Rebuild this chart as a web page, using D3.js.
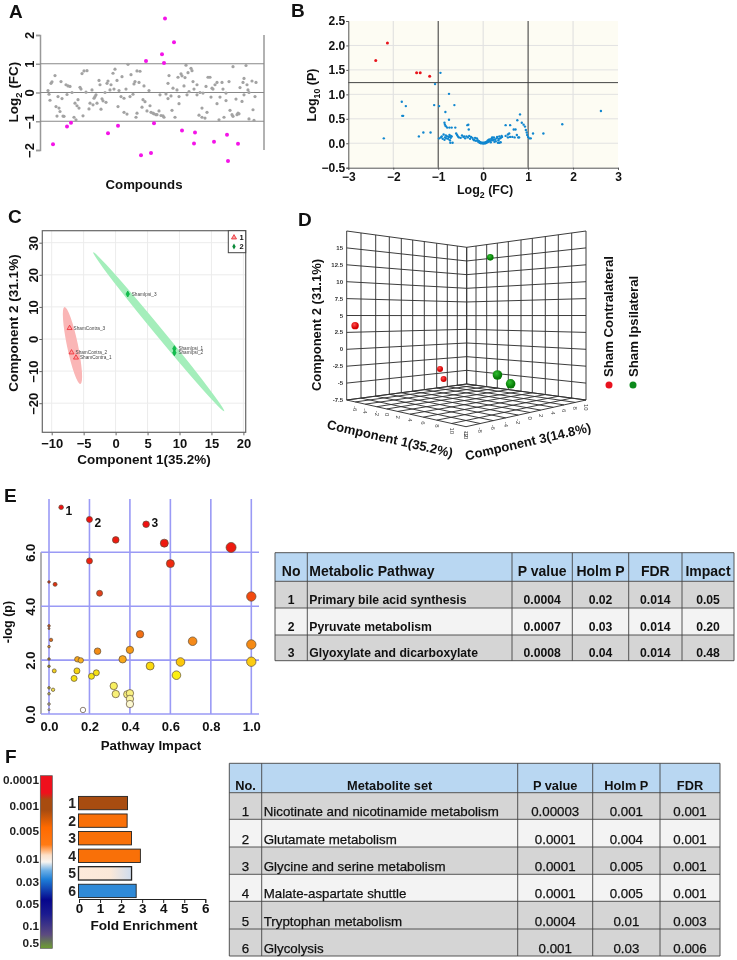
<!DOCTYPE html>
<html>
<head>
<meta charset="utf-8">
<script src="https://cdn.jsdelivr.net/npm/d3@7"></script>
<style>
  html, body { margin: 0; padding: 0; background: #fff; }
  svg { display: block; filter: blur(0.3px); }
  text { font-family: 'Liberation Sans', Arial, sans-serif; fill: #111; }
  .b { font-weight: bold; }
</style>
</head>
<body>
<div id="content"></div>
<script>
// A: compound index, log2 fold change
const aGrayIdx = [8,9,10,11,12,15,16,17,18,19,20,21,22,23,24,26,27,28,30,32,34,35,36,37,38,39,40,41,42,43,44,46,47,49,50,52,53,54,55,56,57,59,60,61,62,63,65,66,67,68,70,71,73,74,75,77,78,79,81,82,84,86,88,84,87,90,91,93,94,95,96,97,97,99,100,102,103,104,105,107,109,110,111,113,114,116,117,119,120,121,123,124,128,129,128,126,131,132,133,135,137,138,139,139,141,142,144,145,146,147,148,149,151,152,153,154,157,157,159,160,162,162,163,165,166,167,168,170,171,172,173,175,177,177,179,180,182,183,184,186,186,189,190,192,193,193,196,197,198,199,200,202,203,204,204,206,207,208,209,209,212,213,214,215,216]
const aGrayFC = [0.07,-0.06,-0.27,0.32,0.37,0.59,-0.49,-0.82,-0.14,-0.54,-0.66,0.38,-0.21,-0.82,-0.83,0.27,-0.07,0.23,0.21,0,-0.86,-0.37,-0.95,-0.46,-0.25,-0.54,0.18,0.12,0.66,-0.81,0.75,0.01,0.76,-0.57,-0.37,0.09,-0.43,-0.2,-0.14,-0.08,-0.37,0.42,0.27,-0.58,-0.22,-0.29,0,-0.34,0.32,0.4,0.09,0.27,0.67,0.12,0.81,0.42,-0.49,0.07,-0.14,0.55,-0.2,0.12,0.98,-0.69,-0.75,-0.14,0.62,-0.06,0.3,0.38,-0.86,0.75,-0.72,0.35,0.74,-0.51,-0.25,0.23,-0.32,-0.64,0.07,-0.46,-0.69,-0.72,-0.74,-0.77,-0.77,-0.64,-0.08,-0.8,-0.81,-0.86,0.32,0.59,-0.21,-0.05,-0.12,-0.62,0.15,-0.86,0.09,0.53,-0.14,-0.39,0.65,0.58,0.23,0.52,0.95,-0.08,0.69,0.03,0.84,0.76,0.38,0.12,-0.08,0.27,-0.79,0,-0.54,-0.86,-0.02,-0.89,0.21,-0.69,0.53,0.53,-0.16,0.15,0.12,0.27,0.35,-0.39,-0.95,-0.16,0.35,0.12,-0.86,-0.02,-0.28,0.38,-0.62,-0.77,-0.83,0.9,-0.23,-0.77,-0.72,-0.74,0.17,-0.31,0.35,-0.08,0.49,0.94,0.27,0.09,0,-0.92,0.4,-0.6,-0.97,-0.14,0.35]
const aSigIdx = [13,27,31,68,78,101,106,111,114,122,124,125,134,142,154,155,174,187,188,198]
const aSigFC = [-1.8,-1.18,-1.05,-1.42,-1.16,-2.18,1.1,-2.1,-1.07,1.33,1.03,2.57,1.75,-1.32,-1.77,-1.39,-1.71,-1.47,-2.38,-1.78]

// B: volcano plot
const bRedFC = [-2.39,-2.13,-1.48,-1.4,-1.19]
const bRedP = [1.69,2.05,1.44,1.44,1.37]
const bBlueFC = [-0.95,-1.07,-0.76,-1.81,-1.72,-1.8,-1.78,-1.09,-0.98,-0.84,-0.64,-0.76,-2.21,-1.43,-1.33,-1.17,-0.86,-0.85,-0.83,-0.8,-0.75,-0.7,-0.62,-0.35,-0.33,-0.32,-0.98,-0.94,-0.92,-0.9,-0.88,-0.86,-0.85,-0.83,-0.82,-0.8,-0.78,-0.76,-0.75,-0.73,-0.72,-0.7,-0.68,-0.74,-0.72,-0.6,-0.58,-0.56,-0.54,-0.5,-0.47,-0.44,-0.42,-0.4,-0.37,-0.34,-0.31,-0.29,-0.27,-0.24,-0.22,-0.2,-0.18,-0.16,-0.14,-0.12,-0.11,-0.09,-0.08,-0.06,-0.05,-0.04,-0.02,-0.01,0,0.01,0.02,0.03,0.04,0.05,0.06,0.07,0.08,0.09,0.1,0.11,0.12,0.13,0.14,0.15,0.17,0.18,0.2,0.21,0.23,0.24,0.26,0.28,0.3,0.31,0.33,0.35,0.36,0.38,0.39,0.4,0.41,0.42,0.34,0.36,0.2,0.25,0.5,0.6,0.68,0.72,0.76,0.82,0.86,0.9,0.93,0.95,0.97,0.98,1,1.03,1.06,1.11,1.34,1.76,2.62,0.5,0.55,0.58,0.6,0.65,0.7,0.75,0.78,0.8,0.55]
const bBlueP = [1.44,1.21,1.01,0.85,0.76,0.56,0.56,0.78,0.76,0.64,0.78,0.48,0.1,0.14,0.22,0.22,0.42,0.38,0.35,0.32,0.32,0.32,0.32,0.37,0.38,0.28,0.1,0.12,0.14,0.09,0.18,0.07,0.12,0.16,0.1,0.14,0.09,0.13,0.17,0.01,0.11,0.14,0.01,0.06,0.15,0.2,0.17,0.14,0.12,0.11,0.16,0.13,0.14,0.1,0.14,0.12,0.15,0.09,0.13,0.11,0.08,0.06,0.11,0.05,0.1,0.06,0.03,0.04,0.01,0.02,0,0.01,0,0.01,0,0,0.01,0,0.01,0,0.02,0.01,0.03,0.02,0.05,0.03,0.07,0.04,0.08,0.05,0.02,0.09,0.06,0.11,0.07,0.12,0.08,0.04,0.1,0.13,0.01,0.09,0.14,0.1,0.02,0.12,0.15,0.13,0.06,0.01,0.12,0.03,0.37,0.37,0.28,0.28,0.47,0.59,0.42,0.38,0.34,0.27,0.22,0.17,0.13,0.1,0.1,0.2,0.2,0.39,0.66,0.15,0.18,0.2,0.13,0.13,0.12,0.17,0.12,0.12,0.12]

// C: PCA scores
const cNames = ['ShamContra_3','ShamContra_2','ShamContra_1','ShamIpsi_3','ShamIpsi_1','ShamIpsi_2']
const cComp1 = [-7.2,-6.9,-6.2,1.9,9.2,9.2]
const cComp2 = [3.4,-4.2,-5.8,14,-3,-4.3]
const cGroup = [1,1,1,2,2,2]
const cRedAxis = [[-8,10],[-5.5,-14]]
const cGreenAxis = [[-3.5,27],[17,-22.5]]

// D: 3D PCA, view position across the two walls and component 2
const dView = [-0.93,-0.22,-0.19,0.2,0.26,0.37]
const dComp2 = [3.5,-2.9,-4.4,13.6,-3.8,-5.1]
const dDepth = [3.7,3,3,3.3,4.8,4.8]
const dTicksY = [15,12.5,10,7.5,5,2.5,0,-2.5,-5,-7.5]
const dTicksC1 = [-6,-4,-2,0,2,4,6,8,10,12]
const dTicksC3 = [-10,-8,-6,-4,-2,0,2,4,6,8,10]

// E: pathway impact
const eImpact = [0.06,0.2,0.48,0.33,0.57,0.9,0.2,0.6,0,0.03,0.25,1,0,0,0.01,0,0.45,0.71,1,0.24,0.4,0.14,0.157,0.364,0,0,0.026,0.138,0.124,0.21,0.234,0.5,0.65,1,0.63,0,0.02,0,0.32,0.33,0.387,0.4,0.4,0.4,0,0,0.168]
const eLogP = [7.67,7.22,7.04,6.46,6.34,6.18,5.68,5.58,4.9,4.81,4.48,4.36,3.27,3.17,2.75,2.5,2.96,2.7,2.58,2.33,2.38,2.03,1.99,2.03,2.04,1.77,1.6,1.6,1.32,1.4,1.53,1.78,1.93,1.94,1.44,0.97,0.9,0.75,1.04,0.74,0.73,0.77,0.56,0.37,0.37,0.16,0.15]
const eSize = [2.3,3,3.3,3.3,4,5,3,4,1.3,2,3,4.7,1.3,1,1.7,1.3,3.7,4.3,4.7,3.3,3.7,2.7,2.7,3.7,1.3,1.3,2,3,3,3,3,4,4.3,4.7,4.3,1.3,1.7,1.3,3.7,3.7,3.7,3.7,3.7,3.7,1.3,1,2.7]
const eColor = ['#f01010','#f01010','#f01010','#ee1a10','#ee1a10','#ee1a10','#f02010','#f02a10','#c8301c','#e03010','#e2401c','#f34a10','#c8552a','#c06030','#d96a20','#c98a3c','#f36f14','#f58a1a','#f58a14','#f38c15','#f79a14','#f8a81c','#f9b020','#f9a81a','#9c7a2c','#8f8a30','#f0d020','#f5d411','#f5e012','#f5e512','#f5e012','#fbd90e','#fbc70c','#fbcb14','#fbee14','#a8a030','#efe050','#b4b060','#f8f060','#f8f078','#f8f07c','#f8f080','#faf4a0','#fcf8d0','#b0b0a0','#d0d0c0','#ffffff']
const eTop = [0,1,2]

const eHead = ['No','Metabolic Pathway','P value','Holm P','FDR','Impact']
const eNo = ['1','2','3']
const ePath = ['Primary bile acid synthesis','Pyruvate metabolism','Glyoxylate and dicarboxylate']
const ePval = ['0.0004','0.0007','0.0008']
const eHolm = ['0.02','0.03','0.04']
const eFdr = ['0.014','0.014','0.014']
const eImp = ['0.05','0.20','0.48']

// F: enrichment
const fSets = ['1','2','3','4','5','6']
const fFold = [2.33,2.31,2.52,2.94,2.52,2.74]
const fFill = ['#a84c10','#f97008','#f97008','#f97008','url(#bar5)','#2f8ad8']
const fLegend = ['0.0001','0.001','0.005','0.01','0.03','0.05','0.1','0.5']
const fHead = ['No.','Metabolite set','P value','Holm P','FDR']
const fNo = ['1','2','3','4','5','6']
const fName = ['Nicotinate and nicotinamide metabolism','Glutamate metabolism','Glycine and serine metabolism','Malate-aspartate shuttle','Tryptophan metabolism','Glycolysis']
const fPval = ['0.00003','0.0001','0.0001','0.0001','0.0004','0.001']
const fHolm = ['0.001','0.004','0.005','0.005','0.01','0.03']
const fFdr = ['0.001','0.001','0.001','0.001','0.003','0.006']

const svg = d3.select('#content').append('svg')
  .attr('width', 737)
  .attr('height', 960)

const defs = svg.append('defs')

function panelLetter (s, x, y) {
  svg.append('text').attr('class', 'b').attr('x', x).attr('y', y)
    .style('font-size', '19px').text(s)
}

function label (x, y, s, size, rot, bold) {
  return svg.append('text')
    .attr('class', bold === false ? '' : 'b')
    .attr('transform', 'translate(' + x + ',' + y + ') rotate(' + (rot || 0) + ')')
    .attr('text-anchor', 'middle')
    .style('font-size', size + 'px')
    .text(s)
}

// label with a subscript, e.g. Log2
function subLabel (x, y, a, sub, b, size, rot) {
  const t = label(x, y, '', size, rot)
  t.append('tspan').text(a)
  t.append('tspan').attr('dy', size * 0.3).style('font-size', (size * 0.7) + 'px').text(sub)
  t.append('tspan').attr('dy', -size * 0.3).text(b)
}

function rotateLabels (g, off) {
  g.selectAll('text')
    .attr('transform', 'rotate(-90)')
    .attr('x', 0).attr('y', -off).attr('dy', 0)
    .style('text-anchor', 'middle')
}

// ---- A
panelLetter('A', 9, 18)
const ax = d3.scaleLinear().domain([0, 224]).range([40, 264])
const ay = d3.scaleLinear().domain([-2, 2]).range([150, 35])

const aAxis = svg.append('g').attr('transform', 'translate(40,0)')
  .call(d3.axisLeft(ay).tickValues([-2, -1, 0, 1, 2]).tickSize(4).tickFormat(d3.format('d')))
aAxis.selectAll('path,line').attr('stroke', '#999').attr('stroke-width', 1.5)
aAxis.selectAll('text').attr('class', 'b').style('font-size', '13px').style('font-family', "'Liberation Sans'")
rotateLabels(aAxis, 6)

svg.append('line').attr('x1', 264).attr('x2', 264).attr('y1', 35).attr('y2', 150)
  .attr('stroke', '#999').attr('stroke-width', 1.5)
svg.selectAll('.a-ref').data([-1, 0, 1]).join('line')
  .attr('x1', 40).attr('x2', 264)
  .attr('y1', d => ay(d)).attr('y2', d => ay(d))
  .attr('stroke', '#888').attr('stroke-width', 1.2)

svg.append('g').selectAll('circle').data(aGrayIdx).join('circle')
  .attr('cx', d => ax(d))
  .attr('cy', (d, i) => ay(aGrayFC[i]))
  .attr('r', 1.6).attr('fill', '#a3a3a3')
svg.append('g').selectAll('circle').data(aSigIdx).join('circle')
  .attr('cx', d => ax(d))
  .attr('cy', (d, i) => ay(aSigFC[i]))
  .attr('r', 2).attr('fill', '#f414e8')

subLabel(18, 92, 'Log', '2', ' (FC)', 13.5, -90)
label(144, 189, 'Compounds', 13.2)

// ---- B
panelLetter('B', 291, 17)
const bx = d3.scaleLinear().domain([-3, 3]).range([348.3, 618])
const by = d3.scaleLinear().domain([-0.5, 2.5]).range([167.7, 21])

svg.append('rect').attr('x', bx(-3)).attr('y', by(2.5))
  .attr('width', bx(3) - bx(-3)).attr('height', by(-0.5) - by(2.5))
  .attr('fill', '#fdfcf3')
svg.append('g').selectAll('line').data([-2, 0, 2]).join('line')
  .attr('x1', d => bx(d)).attr('x2', d => bx(d)).attr('y1', by(2.5)).attr('y2', by(-0.5))
  .attr('stroke', '#ddd')
svg.append('g').selectAll('line').data([2, 1.5, 1, 0.5, 0]).join('line')
  .attr('x1', bx(-3)).attr('x2', bx(3)).attr('y1', d => by(d)).attr('y2', d => by(d))
  .attr('stroke', '#e2e2e2')

const bxAxis = svg.append('g').attr('transform', 'translate(0,' + by(-0.5) + ')')
  .call(d3.axisBottom(bx).tickValues([-3, -2, -1, 0, 1, 2, 3]).tickSize(2).tickFormat(d3.format('d')))
const byAxis = svg.append('g').attr('transform', 'translate(' + bx(-3) + ',0)')
  .call(d3.axisLeft(by).tickValues([-0.5, 0, 0.5, 1, 1.5, 2, 2.5]).tickSize(2).tickFormat(d3.format('.1f')))
for (const g of [bxAxis, byAxis]) {
  g.selectAll('path,line').attr('stroke', '#555')
  g.selectAll('text').attr('class', 'b').style('font-size', '12px').style('font-family', "'Liberation Sans'")
}
byAxis.selectAll('text').attr('x', -3)

svg.append('line').attr('x1', bx(-1)).attr('x2', bx(-1)).attr('y1', by(2.5)).attr('y2', by(-0.5)).attr('stroke', '#333')
svg.append('line').attr('x1', bx(1)).attr('x2', bx(1)).attr('y1', by(2.5)).attr('y2', by(-0.5)).attr('stroke', '#333')
svg.append('line').attr('x1', bx(-3)).attr('x2', bx(3)).attr('y1', by(1.24)).attr('y2', by(1.24)).attr('stroke', '#444')

svg.append('g').selectAll('circle').data(bBlueFC).join('circle')
  .attr('cx', d => bx(d))
  .attr('cy', (d, i) => by(bBlueP[i]))
  .attr('r', 1.2).attr('fill', '#1187cf')
svg.append('g').selectAll('circle').data(bRedFC).join('circle')
  .attr('cx', d => bx(d))
  .attr('cy', (d, i) => by(bRedP[i]))
  .attr('r', 1.5).attr('fill', '#e8141c')

subLabel(316, 95, 'Log', '10', ' (P)', 12.5, -90)
subLabel(485, 194, 'Log', '2', ' (FC)', 12.5, 0)

// ---- C
panelLetter('C', 8, 223)
const cx = d3.scaleLinear().domain([-10, 20]).range([51.7, 243.4])
const cy = d3.scaleLinear().domain([-20, 30]).range([403.2, 242.7])
const cBox = { l: 42.3, r: 245.7, t: 230.7, b: 432.3 }

svg.append('g').selectAll('line').data([-10, -5, 0, 5, 10, 15, 20]).join('line')
  .attr('x1', d => cx(d)).attr('x2', d => cx(d)).attr('y1', cBox.t).attr('y2', cBox.b)
  .attr('stroke', '#ececec')
svg.append('g').selectAll('line').data([-20, -10, 0, 10, 20, 30]).join('line')
  .attr('x1', cBox.l).attr('x2', cBox.r).attr('y1', d => cy(d)).attr('y2', d => cy(d))
  .attr('stroke', '#ececec')

function confEllipse (axis, minor, fill) {
  const x1 = cx(axis[0][0])
  const y1 = cy(axis[0][1])
  const x2 = cx(axis[1][0])
  const y2 = cy(axis[1][1])
  const len = Math.hypot(x2 - x1, y2 - y1) / 2
  const ang = Math.atan2(y2 - y1, x2 - x1) * 180 / Math.PI
  svg.append('ellipse')
    .attr('transform', 'translate(' + (x1 + x2) / 2 + ',' + (y1 + y2) / 2 + ') rotate(' + ang + ')')
    .attr('rx', len).attr('ry', minor)
    .attr('fill', fill)
}
confEllipse(cRedAxis, 5.5, '#fab6b6')
confEllipse(cGreenAxis, 4, '#a4eebb')

svg.append('rect').attr('x', cBox.l).attr('y', cBox.t)
  .attr('width', cBox.r - cBox.l).attr('height', cBox.b - cBox.t)
  .attr('fill', 'none').attr('stroke', '#666').attr('stroke-width', 1.2)

const cxAxis = svg.append('g').attr('transform', 'translate(0,' + cBox.b + ')')
  .call(d3.axisBottom(cx).tickValues([-10, -5, 0, 5, 10, 15, 20]).tickSize(3))
const cyAxis = svg.append('g').attr('transform', 'translate(' + cBox.l + ',0)')
  .call(d3.axisLeft(cy).tickValues([-20, -10, 0, 10, 20, 30]).tickSize(3))
for (const g of [cxAxis, cyAxis]) {
  g.select('path').remove()
  g.selectAll('line').attr('stroke', '#666')
  g.selectAll('text').style('font-size', '13px').style('font-family', "'Liberation Sans'").style('font-weight', 'bold').attr('fill', '#222')
}
rotateLabels(cyAxis, 4)

const triangle = d3.symbol().type(d3.symbolTriangle).size(11)
const diamond = d3.symbol().type(d3.symbolDiamond).size(10)
svg.append('g').selectAll('path').data(cComp1).join('path')
  .attr('transform', (d, i) => 'translate(' + cx(d) + ',' + cy(cComp2[i]) + ')')
  .attr('d', (d, i) => cGroup[i] === 1 ? triangle() : diamond())
  .attr('fill', (d, i) => cGroup[i] === 1 ? '#f9a0a0' : '#0fc050')
  .attr('stroke', (d, i) => cGroup[i] === 1 ? '#f02a34' : '#0bb040')
  .attr('stroke-width', 0.8)
svg.append('g').selectAll('text').data(cNames).join('text')
  .attr('x', (d, i) => cx(cComp1[i]) + 4)
  .attr('y', (d, i) => cy(cComp2[i]) + 1.5)
  .style('font-size', '4.7px').style('fill', '#444')
  .text(d => d)

svg.append('rect').attr('x', 228.3).attr('y', 230.7).attr('width', 17.4).attr('height', 22)
  .attr('fill', '#fff').attr('stroke', '#444')
svg.append('path').attr('transform', 'translate(234,237.5)').attr('d', triangle())
  .attr('fill', '#f9a0a0').attr('stroke', '#e8242c').attr('stroke-width', 0.8)
svg.append('path').attr('transform', 'translate(234,246.5)').attr('d', diamond()).attr('fill', '#0b8a3a')
svg.append('text').attr('class', 'b').attr('x', 239.5).attr('y', 240).style('font-size', '7.5px').text('1')
svg.append('text').attr('class', 'b').attr('x', 239.5).attr('y', 249).style('font-size', '7.5px').text('2')

label(144, 464, 'Component 1(35.2%)', 13.5)
label(18, 323, 'Component 2 (31.1%)', 13.5, -90)

// ---- D
panelLetter('D', 298, 226)
const dLeftX = [346.7, 361, 375.7, 389.3, 401.3, 412.7, 424.3, 436.7, 447.3, 457.3, 466.7]
const dRightX = [466.7, 476, 486.7, 497.3, 508.3, 521, 532.3, 545.3, 558.3, 571.7, 586]
const dFrontL = [346.7, 355.3, 365.3, 376.7, 386.7, 397.7, 410, 423.3, 436.7, 451.7, 466]
const dFrontR = [466, 480.3, 493.3, 505.7, 518.3, 530, 540.7, 553.3, 564, 575.3, 586]
const dy0 = d3.scaleLinear().domain([-7.5, 17.5]).range([400, 231])  // outer edge of the walls
const dyC = d3.scaleLinear().domain([-7.5, 17.5]).range([384, 247.3])  // inner corner
const dLevels = [17.5].concat(dTicksY)
const dGrid = svg.append('g').attr('fill', 'none').attr('stroke', '#333').attr('stroke-width', 0.95)

function seg (x1, y1, x2, y2) {
  dGrid.append('line').attr('x1', x1).attr('y1', y1).attr('x2', x2).attr('y2', y2)
}
// walls
for (const v of dLevels) {
  seg(dLeftX[0], dy0(v), dLeftX[10], dyC(v))
  seg(dRightX[0], dyC(v), dRightX[10], dy0(v))
}
for (const px of dLeftX) {
  const f = (px - dLeftX[0]) / (dLeftX[10] - dLeftX[0])
  seg(px, d3.interpolate(dy0(17.5), dyC(17.5))(f), px, d3.interpolate(dy0(-7.5), dyC(-7.5))(f))
}
for (const px of dRightX) {
  const f = (px - dRightX[0]) / (dRightX[10] - dRightX[0])
  seg(px, d3.interpolate(dyC(17.5), dy0(17.5))(f), px, d3.interpolate(dyC(-7.5), dy0(-7.5))(f))
}
// floor
const floorAB = d3.scaleLinear().domain([346.7, 466.7]).range([400, 384])
const floorBC = d3.scaleLinear().domain([466.7, 586]).range([384, 400])
const floorAD = d3.scaleLinear().domain([346.7, 466]).range([400, 426.7])
const floorDC = d3.scaleLinear().domain([466, 586]).range([426.7, 400])
dFrontL.forEach((px, i) => seg(px, floorAD(px), dRightX[i], floorBC(dRightX[i])))
dFrontR.forEach((px, i) => seg(px, floorDC(px), dLeftX[i], floorAB(dLeftX[i])))

svg.append('g').selectAll('text').data(dTicksY).join('text')
  .attr('x', 343).attr('y', d => dy0(d) + 2)
  .attr('text-anchor', 'end')
  .style('font-size', '6px').style('fill', '#333').style('font-weight', 'bold')
  .text(d => d)
svg.append('g').selectAll('text').data(dTicksC1).join('text')
  .attr('transform', (d, i) => 'translate(' + (dFrontL[i + 1] - 2) + ',' + (floorAD(dFrontL[i + 1]) + 4) + ') rotate(90)')
  .style('font-size', '6px').style('fill', '#444')
  .text(d => d)
svg.append('g').selectAll('text').data(dTicksC3).join('text')
  .attr('transform', (d, i) => 'translate(' + (dFrontR[i] - 2) + ',' + (floorDC(dFrontR[i]) + 4) + ') rotate(90)')
  .style('font-size', '6px').style('fill', '#444')
  .text(d => d)

for (const [id, c0, c1] of [['ballR', '#ff5050', '#d40000'], ['ballG', '#30c030', '#067a06']]) {
  const grad = defs.append('radialGradient').attr('id', id).attr('cx', '40%').attr('cy', '35%')
  grad.append('stop').attr('offset', '0%').attr('stop-color', c0)
  grad.append('stop').attr('offset', '100%').attr('stop-color', c1)
}
const dViewX = d3.scaleLinear().domain([-1, 1]).range([346.7, 586])
svg.append('g').selectAll('circle').data(dView).join('circle')
  .attr('cx', d => dViewX(d))
  .attr('cy', (d, i) => dy0(dComp2[i]))
  .attr('r', (d, i) => dDepth[i])
  .attr('fill', d => d < 0 ? 'url(#ballR)' : 'url(#ballG)')

label(389, 443, 'Component 1(35.2%)', 13, 13)
label(529, 446, 'Component 3(14.8%)', 13, -13)
label(321, 325, 'Component 2 (31.1%)', 13, -90)
svg.append('text').attr('transform', 'translate(613,377) rotate(-90)').style('font-size', '13.2px').attr('class', 'b').text('Sham Contralateral')
svg.append('text').attr('transform', 'translate(638,377) rotate(-90)').style('font-size', '13.2px').attr('class', 'b').text('Sham Ipsilateral')
svg.append('circle').attr('cx', 609).attr('cy', 385).attr('r', 3.5).attr('fill', '#e8121e')
svg.append('circle').attr('cx', 633).attr('cy', 385).attr('r', 3.5).attr('fill', '#0c8a1c')

// ---- E
panelLetter('E', 4, 502)
const ex = d3.scaleLinear().domain([0, 1]).range([49, 251.3])
const ey = d3.scaleLinear().domain([0, 6]).range([714, 552.3])

svg.append('line').attr('x1', 41).attr('x2', 41).attr('y1', ey(6)).attr('y2', ey(0))
  .attr('stroke', '#aaa').attr('stroke-width', 1.8)
const eGrid = svg.append('g').attr('stroke', '#9a9af5').attr('stroke-width', 1.6)
eGrid.selectAll('.v').data([0, 0.2, 0.4, 0.6, 0.8, 1]).join('line')
  .attr('x1', d => ex(d)).attr('x2', d => ex(d)).attr('y1', 499).attr('y2', ey(0))
eGrid.selectAll('.h').data([0, 2, 4, 6]).join('line')
  .attr('x1', 41).attr('x2', 259).attr('y1', d => ey(d)).attr('y2', d => ey(d))

const exAxis = svg.append('g').attr('transform', 'translate(0,' + ey(0) + ')')
  .call(d3.axisBottom(ex).tickValues([0, 0.2, 0.4, 0.6, 0.8, 1]).tickSize(0).tickFormat(d3.format('.1f')))
const eyAxis = svg.append('g').attr('transform', 'translate(41,0)')
  .call(d3.axisLeft(ey).tickValues([0, 2, 4, 6]).tickSize(0).tickFormat(d3.format('.1f')))
for (const g of [exAxis, eyAxis]) {
  g.select('path').remove()
  g.selectAll('text').style('font-size', '13px').style('font-family', "'Liberation Sans'").style('font-weight', 'bold').attr('fill', '#222')
}
exAxis.selectAll('text').attr('y', 8)
rotateLabels(eyAxis, 6)

svg.append('g').selectAll('circle').data(eImpact).join('circle')
  .attr('cx', d => ex(d))
  .attr('cy', (d, i) => ey(eLogP[i]))
  .attr('r', (d, i) => eSize[i])
  .attr('fill', (d, i) => eColor[i])
  .attr('stroke', '#5e4e38').attr('stroke-width', 0.7)
svg.append('g').selectAll('text').data(eTop).join('text')
  .attr('class', 'b')
  .attr('x', d => ex(eImpact[d]) + eSize[d] + 2)
  .attr('y', d => ey(eLogP[d]) + (d === 2 ? 3 : 8))
  .style('font-size', '12px')
  .text(d => d + 1)

label(151, 750, 'Pathway Impact', 13.3)
label(12, 622, '-log (p)', 12.5, -90)

// ---- tables
function drawTable (opt) {
  const g = svg.append('g')
  const { xs, ys, cols, head, fills, align, headAlign } = opt
  const nRows = ys.length - 2
  g.append('rect').attr('x', xs[0]).attr('y', ys[0])
    .attr('width', xs[xs.length - 1] - xs[0]).attr('height', ys[1] - ys[0]).attr('fill', '#b9d7f2')
  g.selectAll('.row').data(d3.range(nRows)).join('rect')
    .attr('x', xs[0]).attr('y', d => ys[d + 1])
    .attr('width', xs[xs.length - 1] - xs[0]).attr('height', d => ys[d + 2] - ys[d + 1])
    .attr('fill', d => fills[d])
  g.append('g').selectAll('line').data(ys).join('line')
    .attr('x1', xs[0]).attr('x2', xs[xs.length - 1]).attr('y1', d => d).attr('y2', d => d)
    .attr('stroke', '#444').attr('stroke-width', 0.9)
  g.append('g').selectAll('line').data(xs).join('line')
    .attr('x1', d => d).attr('x2', d => d).attr('y1', ys[0]).attr('y2', ys[ys.length - 1])
    .attr('stroke', '#444').attr('stroke-width', 0.9)
  const tx = (c, a) => a === 'start' ? xs[c] + 2 : (xs[c] + xs[c + 1]) / 2
  head.forEach((h, c) => {
    g.append('text')
      .attr('x', tx(c, headAlign[c])).attr('y', ys[1] + opt.headDy)
      .attr('text-anchor', headAlign[c])
      .attr('class', 'b')
      .style('font-size', opt.headSize + 'px')
      .text(h)
  })
  cols.forEach((col, c) => {
    g.append('g').selectAll('text').data(col).join('text')
      .attr('x', tx(c, align[c]))
      .attr('y', (d, r) => ys[r + 2] + opt.rowDy)
      .attr('text-anchor', align[c])
      .attr('class', opt.rowBold ? 'b' : '')
      .style('font-size', opt.rowSize + 'px')
      .style('stroke', opt.rowBold ? 'none' : '#111')
      .style('stroke-width', 0.25)
      .text(d => d)
  })
}

drawTable({
  xs: [275, 307.3, 512, 572.3, 628.7, 682, 734],
  ys: [552.7, 581.3, 608, 635, 660.7],
  head: eHead,
  cols: [eNo, ePath, ePval, eHolm, eFdr, eImp],
  fills: ['#d5d5d5', '#f3f3f3', '#d5d5d5'],
  align: ['middle', 'start', 'middle', 'middle', 'middle', 'middle'],
  headAlign: ['middle', 'start', 'middle', 'middle', 'middle', 'middle'],
  headSize: 14, headDy: -5, rowSize: 12.2, rowDy: -4, rowBold: true
})

// ---- F
panelLetter('F', 5, 763)
const stops = [
  [0, '#f0101c'], [0.1, '#f0101c'], [0.14, '#a84c10'], [0.2, '#a84c10'], [0.3, '#ff6a00'], [0.4, '#ff7a14'],
  [0.46, '#fde0c8'], [0.5, '#f8f4f0'], [0.55, '#6aaee6'], [0.6, '#1e7fd8'],
  [0.72, '#06068c'], [0.8, '#1a1a90'], [0.92, '#5c4a80'], [1, '#6ea030']
]
const cbar = defs.append('linearGradient').attr('id', 'cbar').attr('x1', 0).attr('x2', 0).attr('y1', 0).attr('y2', 1)
stops.forEach(s => cbar.append('stop').attr('offset', s[0]).attr('stop-color', s[1]))
const bar5 = defs.append('linearGradient').attr('id', 'bar5')
bar5.append('stop').attr('offset', 0).attr('stop-color', '#fdeadb')
bar5.append('stop').attr('offset', 0.6).attr('stop-color', '#fbe8d8')
bar5.append('stop').attr('offset', 1).attr('stop-color', '#cfdcee')

svg.append('rect').attr('x', 40.3).attr('y', 775.7).attr('width', 12).attr('height', 172.6)
  .attr('fill', 'url(#cbar)').attr('stroke', '#555').attr('stroke-width', 0.7)
const fLegendY = d3.scalePoint().domain(fLegend).range([0, 1])
const legendPos = d3.scaleLinear().domain(fLegend.map(d => fLegendY(d)))
  .range([784, 810, 835, 863, 886, 908, 930, 947])
svg.append('g').selectAll('text').data(fLegend).join('text')
  .attr('class', 'b')
  .attr('x', 39).attr('y', d => legendPos(fLegendY(d)))
  .attr('text-anchor', 'end')
  .style('font-size', '11.8px').style('fill', '#222')
  .text(d => d)

const fx = d3.scaleLinear().domain([0, 6]).range([79, 205.3])
const fy = d3.scaleBand().domain(fSets).range([795, 899]).paddingInner(0.24).paddingOuter(0.08)
svg.append('g').selectAll('rect').data(fFold).join('rect')
  .attr('x', fx(0) - 0.5)
  .attr('y', (d, i) => fy(fSets[i]))
  .attr('width', d => fx(d) - fx(0))
  .attr('height', fy.bandwidth())
  .attr('fill', (d, i) => fFill[i])
  .attr('stroke', '#222').attr('stroke-width', (d, i) => i === 4 ? 1.3 : 0.9)
svg.append('g').selectAll('text').data(fSets).join('text')
  .attr('class', 'b')
  .attr('x', 76).attr('y', d => fy(d) + fy.bandwidth() / 2 + 5)
  .attr('text-anchor', 'end')
  .style('font-size', '14px').style('fill', '#222')
  .text(d => d)

const fAxis = svg.append('g').attr('transform', 'translate(0,899)')
  .call(d3.axisBottom(fx).tickValues([0, 1, 2, 3, 4, 5, 6]).tickSize(4).tickFormat(d3.format('d')))
fAxis.selectAll('path,line').attr('stroke', '#222')
fAxis.selectAll('text').style('font-size', '13.5px').style('font-family', "'Liberation Sans'").style('font-weight', 'bold').attr('y', 4).attr('fill', '#222')
label(144, 930, 'Fold Enrichment', 13.6)

drawTable({
  xs: [229.3, 261.7, 517.7, 592.7, 660, 720],
  ys: [763.3, 792.7, 819.3, 847, 874.3, 901.3, 929, 956],
  head: fHead,
  cols: [fNo, fName, fPval, fHolm, fFdr],
  fills: ['#d5d5d5', '#f3f3f3', '#d5d5d5', '#f3f3f3', '#d5d5d5', '#d5d5d5'],
  align: ['middle', 'start', 'middle', 'middle', 'middle'],
  headAlign: ['middle', 'middle', 'middle', 'middle', 'middle'],
  headSize: 12.8, headDy: -3, rowSize: 13.3, rowDy: -3, rowBold: false
})
</script>
</body>
</html>
